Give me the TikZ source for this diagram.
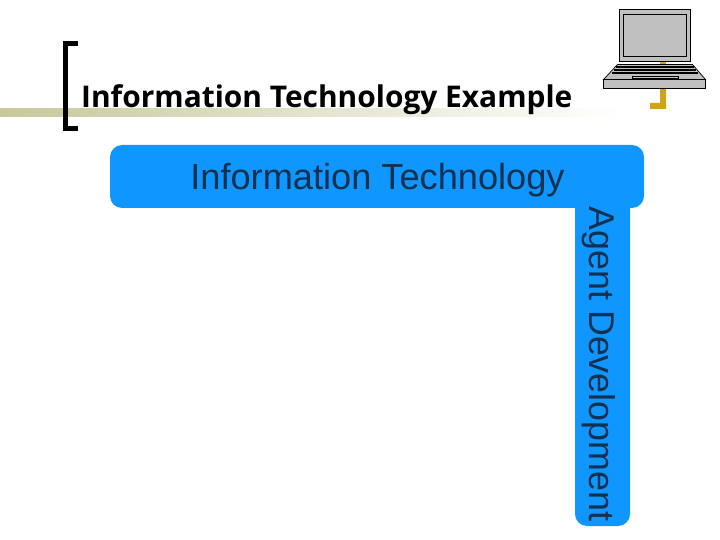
\documentclass[tikz,border=0pt]{standalone}
\usepackage{fontspec}
\setmainfont{Liberation Sans}
\newfontfamily\titlefont{Open Sans}
\usetikzlibrary{fadings}
\definecolor{boxblue}{HTML}{0F96FF}
\definecolor{boxtext}{HTML}{12304F}
\definecolor{barkhaki}{HTML}{C9C79B}
\definecolor{hookgold}{HTML}{CFA31C}
\definecolor{laptopgray}{HTML}{C0C0C0}
\begin{document}
\begin{tikzpicture}[x=1pt,y=-1pt,
	round/.style={rounded corners=12pt,minimum width=#1,fill=boxblue,inner sep=0pt},
	label/.style={text=boxtext,font=\fontsize{#1}{#1}\selectfont,inner sep=0pt},
	laptop/.style={draw=black,line width=0.7pt,fill=laptopgray}]

	\useasboundingbox (0,0) rectangle (720,540);

	% title bar and bracket
	\fill[barkhaki,path fading=east] (0,108) rectangle (620,117);
	\draw[line width=5pt,line cap=butt] (78,43.5) -- (65.5,43.5) -- (65.5,128.5) -- (78,128.5);
	\node[anchor=base west,inner sep=0pt,font=\titlefont\bfseries\fontsize{29.9}{29.9}\selectfont] (title) at (81,108) {Information Technology Example};

	% gold hook
	\fill[hookgold] (660,62) rectangle (666,65);
	\fill[hookgold] (660,88) -- (666,88) -- (666,109) -- (650,109) -- (650,103) -- (660,103) -- cycle;

	% laptop
	\draw[laptop] (619.5,9.5) rectangle (690.5,61.5);
	\draw[laptop] (623.5,14.5) rectangle (686.5,56.5);
	\draw[laptop] (617.5,64.5) -- (692.5,64.5) -- (705.5,79.5) -- (603.5,79.5) -- cycle;
	\draw[laptop] (603.5,79.5) rectangle (705.5,88);
	\draw[line width=1.3pt] (616,67) -- (694,67);
	\draw[line width=1.3pt] (614,70) -- (696,70);
	\draw[line width=1.3pt] (612,73) -- (698,73);
	\draw[laptop] (632,76) rectangle (678,78.5);

	% boxes
	\node[round=55pt,minimum height=340pt] (agentbox) at (602.5,356) {};
	\node[round=534pt,minimum height=63pt] (itbox) at (377,176.5) {};
	\node[label=36.2,anchor=base] (ittext) at (377.5,190) {Information Technology};
	\node[label=35.8,rotate=-90,anchor=base] (agenttext) at (589,364) {Agent Development};

\end{tikzpicture}
\end{document}
